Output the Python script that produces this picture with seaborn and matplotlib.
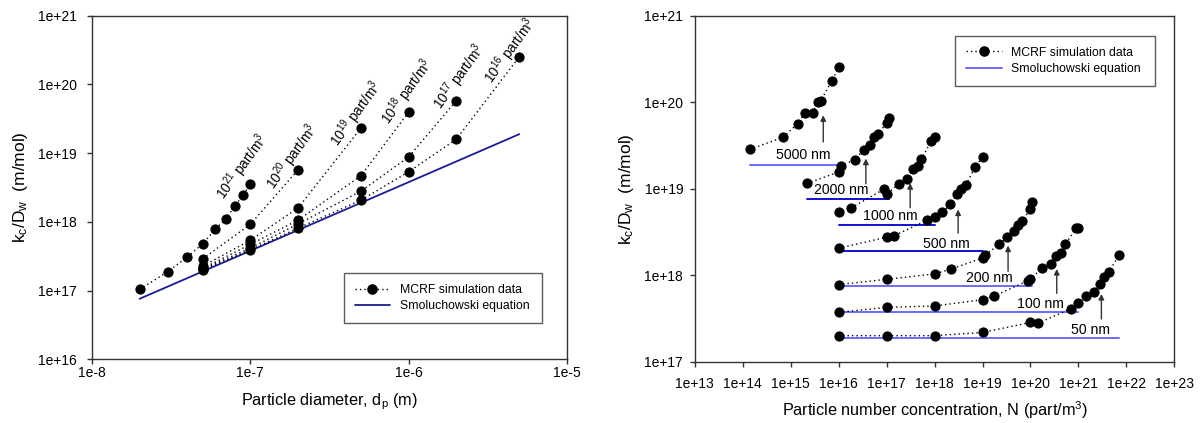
import numpy as np
import pandas as pd
import matplotlib
matplotlib.use("Agg")
import matplotlib.pyplot as plt
from matplotlib.lines import Line2D
import seaborn as sns

# ---------------- Left panel data: k_c/D_w vs particle diameter ----------------
d_1e21 = [2e-8, 3e-8, 4e-8, 5e-8, 6e-8, 7e-8, 8e-8, 9e-8, 1e-7]
k_1e21 = [1.04e17, 1.88e17, 3.08e17, 4.8e17, 7.8e17, 1.11e18, 1.71e18, 2.45e18, 3.59e18]
d_1e20 = [5e-8, 1e-7, 2e-7]
k_1e20 = [2.9e17, 9.2e17, 5.7e18]
d_1e19 = [5e-8, 1e-7, 2e-7, 5e-7]
k_1e19 = [2.27e17, 5.4e17, 1.59e18, 2.32e19]
d_1e18 = [5e-8, 1e-7, 2e-7, 5e-7, 1e-6]
k_1e18 = [2.1e17, 4.7e17, 1.06e18, 4.69e18, 3.96e19]
d_1e17 = [5e-8, 1e-7, 2e-7, 5e-7, 1e-6, 2e-6]
k_1e17 = [2.05e17, 4.15e17, 9.3e17, 2.8e18, 8.8e18, 5.8e19]
d_1e16 = [5e-8, 1e-7, 2e-7, 5e-7, 1e-6, 2e-6, 5e-6]
k_1e16 = [2.0e17, 3.9e17, 8.1e17, 2.07e18, 5.36e18, 1.59e19, 2.53e20]
smol_d = [2e-8, 5e-6]
smol_k = [7.6e16, 1.89e19]
conc_exps = ["21", "20", "19", "18", "17", "16"]

# ---------------- Right panel data: k_c/D_w vs number concentration ----------------
N_5000 = [1.4e14, 7.0e14, 1.4e15, 2.0e15, 2.87e15, 3.66e15, 4.2e15, 7.13e15, 1.0e16]
k_5000 = [2.85e19, 3.93e19, 5.66e19, 7.52e19, 7.52e19, 9.93e19, 1.035e20, 1.74e20, 2.52e20]
N_2000 = [2.19e15, 1.0e16, 1.1e16, 2.19e16, 3.31e16, 4.47e16, 5.5e16, 6.76e16, 1.0e17, 1.1e17]
k_2000 = [1.15e19, 1.56e19, 1.83e19, 2.17e19, 2.80e19, 3.24e19, 3.93e19, 4.34e19, 5.75e19, 6.65e19]
N_1000 = [1e16, 1.78e16, 8.7e16, 1e17, 1.78e17, 2.69e17, 3.47e17, 4.47e17, 5.25e17, 8.5e17, 1e18]
k_1000 = [5.36e18, 5.96e18, 9.82e18, 8.59e18, 1.14e19, 1.28e19, 1.67e19, 1.83e19, 2.19e19, 3.53e19, 3.96e19]
N_500 = [1e16, 1e17, 1.41e17, 6.9e17, 1e18, 1.45e18, 2.14e18, 2.88e18, 3.55e18, 4.47e18, 7.08e18, 1e19]
k_500 = [2.05e18, 2.75e18, 2.85e18, 4.30e18, 4.69e18, 5.36e18, 6.58e18, 8.59e18, 9.82e18, 1.09e19, 1.80e19, 2.31e19]
N_200 = [1e16, 1e17, 1e18, 2.24e18, 1e19, 1.12e19, 2.24e19, 3.24e19, 4.47e19, 5.5e19, 6.6e19, 1e20, 1.1e20]
k_200 = [7.78e17, 8.97e17, 1.035e18, 1.18e18, 1.58e18, 1.69e18, 2.28e18, 2.73e18, 3.26e18, 3.85e18, 4.26e18, 5.75e18, 7.0e18]
N_100 = [1e16, 1e17, 1e18, 1e19, 1.74e19, 9e19, 1e20, 1.78e20, 2.63e20, 3.39e20, 4.37e20, 5.37e20, 8.9e20, 1e21]
k_100 = [3.72e17, 4.25e17, 4.41e17, 5.21e17, 5.75e17, 8.65e17, 9.06e17, 1.22e18, 1.33e18, 1.66e18, 1.81e18, 2.28e18, 3.5e18, 3.5e18]
N_50 = [1e16, 1e17, 1e18, 1e19, 1e20, 1.41e20, 6.9e20, 1e21, 1.41e21, 2.09e21, 2.82e21, 3.47e21, 4.27e21, 7.08e21]
k_50 = [2.0e17, 2.0e17, 2.0e17, 2.18e17, 2.84e17, 2.77e17, 4.1e17, 4.72e17, 5.7e17, 6.4e17, 8.0e17, 9.46e17, 1.08e18, 1.73e18]
size_labels = ["5000 nm", "2000 nm", "1000 nm", "500 nm", "200 nm", "100 nm", "50 nm"]
smol_N_start = [1.4e14, 2.19e15, 1e16, 1e16, 1e16, 1e16, 1e16]
smol_N_end = [1e16, 1.1e17, 1e18, 1e19, 1.1e20, 1e21, 7.08e21]
smol_k_size = [1.89e19, 7.57e18, 3.79e18, 1.89e18, 7.57e17, 3.79e17, 1.89e17]

# ---------------- style ----------------
sns.set_theme(style="ticks")
plt.rcParams["font.family"] = ["Liberation Sans", "DejaVu Sans"]
plt.rcParams["mathtext.fontset"] = "custom"
plt.rcParams["mathtext.rm"] = "Liberation Sans"
plt.rcParams["mathtext.it"] = "Liberation Sans"
plt.rcParams["mathtext.default"] = "regular"
plt.rcParams["text.color"] = "black"
plt.rcParams["axes.labelcolor"] = "black"
plt.rcParams["xtick.labelcolor"] = "black"
plt.rcParams["ytick.labelcolor"] = "black"

fig = plt.figure(figsize=(12.03, 4.23), dpi=100)
axL = fig.add_axes([0.0765, 0.1506, 0.3948, 0.8123])
axR = fig.add_axes([0.5775, 0.1449, 0.3987, 0.8180])

DARK_NAVY = "#1c1c8f"
LIGHT_BLUE = "#6a6aff"
DARK_BLUE = "#1010d0"
MS = 6.6
TICK_FS = 10

def draw_series(ax, x, y):
    df = pd.DataFrame({"x": x, "y": y})
    sns.lineplot(data=df, x="x", y="y", ax=ax, sort=False, estimator=None,
                 color="black", linestyle=(0, (1, 2.2)), linewidth=1.0,
                 marker="o", markersize=MS, markeredgecolor="black",
                 markerfacecolor="black", legend=False, zorder=3)

def style_axes(ax, xpad, ypad):
    ax.set_xscale("log")
    ax.set_yscale("log")
    for s in ax.spines.values():
        s.set_color("#333333")
        s.set_linewidth(1.0)
        s.set_visible(True)
    ax.tick_params(axis="both", which="major", direction="out", length=3.8,
                   width=1.0, color="#333333", labelsize=TICK_FS,
                   labelcolor="black")
    ax.tick_params(axis="x", pad=xpad)
    ax.tick_params(axis="y", pad=ypad)
    ax.minorticks_off()

# ---------------- Left panel ----------------
style_axes(axL, 1.2, 7)
for x, y in [(d_1e21, k_1e21), (d_1e20, k_1e20), (d_1e19, k_1e19),
             (d_1e18, k_1e18), (d_1e17, k_1e17), (d_1e16, k_1e16)]:
    draw_series(axL, x, y)
sns.lineplot(x=smol_d, y=smol_k, ax=axL, color=DARK_NAVY, linewidth=1.3,
             legend=False, zorder=2)
axL.set_xlim(1e-8, 1e-5)
axL.set_ylim(1e16, 1e21)
axL.set_xticks([1e-8, 1e-7, 1e-6, 1e-5])
axL.set_xticklabels(["1e-8", "1e-7", "1e-6", "1e-5"])
axL.set_yticks([1e16, 1e17, 1e18, 1e19, 1e20, 1e21])
axL.set_yticklabels(["1e+16", "1e+17", "1e+18", "1e+19", "1e+20", "1e+21"])
axL.minorticks_off()
axL.set_xlabel("Particle diameter, d$_p$ (m)", fontsize=11.7, labelpad=8)
axL.set_ylabel("k$_c$/D$_w$  (m/mol)", fontsize=12.5, labelpad=6)

label_pos = [(8.87e-8, 6.2e18), (1.84e-7, 8.7e18), (4.68e-7, 3.7e19),
             (9.9e-7, 7.7e19), (2.1e-6, 1.27e20), (4.38e-6, 3.1e20)]
for e, (lx, ly) in zip(conc_exps, label_pos):
    axL.text(lx, ly, "10$^{" + e + "}$ part/m$^{3}$", rotation=54,
             rotation_mode="anchor", ha="center", va="center", fontsize=9.8)

handles = [Line2D([0], [0], color="black", linestyle=(0, (1, 2.2)), linewidth=1.0,
                  marker="o", markersize=MS, markerfacecolor="black"),
           Line2D([0], [0], color=DARK_NAVY, linewidth=1.3)]
legL = axL.legend(handles, ["MCRF simulation data", "Smoluchowski equation"],
                  loc="lower left", bbox_to_anchor=(0.53, 0.105, 0.418, 0.15),
                  mode="expand", fontsize=8.8, frameon=True, fancybox=False,
                  edgecolor="#333333", handlelength=2.9, numpoints=1,
                  borderpad=0.9, labelspacing=0.35, handletextpad=0.8,
                  borderaxespad=0)
legL.get_frame().set_linewidth(1.0)

# ---------------- Right panel ----------------
style_axes(axR, 7, 4.5)
for x, y in [(N_5000, k_5000), (N_2000, k_2000), (N_1000, k_1000), (N_500, k_500),
             (N_200, k_200), (N_100, k_100), (N_50, k_50)]:
    draw_series(axR, x, y)
smol_colors = [LIGHT_BLUE, DARK_BLUE, DARK_BLUE, DARK_BLUE, LIGHT_BLUE, LIGHT_BLUE, LIGHT_BLUE]
for xs, xe, kv, c in zip(smol_N_start, smol_N_end, smol_k_size, smol_colors):
    sns.lineplot(x=[xs, xe], y=[kv, kv], ax=axR, color=c, linewidth=1.4,
                 legend=False, zorder=2)

text_pos = [(1.83e15, 2.48e19), (1.12e16, 9.73e18), (1.17e17, 4.87e18),
            (1.8e18, 2.3e18), (1.37e19, 9.3e17), (1.58e20, 4.65e17), (1.8e21, 2.32e17)]
arrow_x = [4.78e15, 3.7e16, 3.1e17, 3.1e18, 3.41e19, 3.53e20, 3.01e21]
arrow_y0 = [3.47e19, 1.14e19, 6.03e18, 3.06e18, 1.11e18, 6.17e17, 3.12e17]
arrow_y1 = [7.07e19, 2.23e19, 1.16e19, 5.75e18, 2.2e18, 1.18e18, 6.07e17]
for lab, (tx, ty), ax_, y0, y1 in zip(size_labels, text_pos, arrow_x, arrow_y0, arrow_y1):
    axR.text(tx, ty, lab, ha="center", va="center", fontsize=10.2, zorder=4)
    axR.annotate("", xy=(ax_, y1), xytext=(ax_, y0),
                 arrowprops=dict(arrowstyle="-|>", color="#333333", lw=1.0,
                                 mutation_scale=8, shrinkA=0, shrinkB=0))

axR.set_xlim(1e13, 1e23)
axR.set_ylim(1e17, 1e21)
axR.set_xticks([10.0 ** p for p in range(13, 24)])
axR.set_xticklabels(["1e+%d" % p for p in range(13, 24)])
axR.set_yticks([1e17, 1e18, 1e19, 1e20, 1e21])
axR.set_yticklabels(["1e+17", "1e+18", "1e+19", "1e+20", "1e+21"])
axR.minorticks_off()
axR.set_xlabel("Particle number concentration, N (part/m$^3$)", fontsize=11.7, labelpad=6)
axR.set_ylabel("k$_c$/D$_w$  (m/mol)", fontsize=12.5, labelpad=6)

handlesR = [Line2D([0], [0], color="black", linestyle=(0, (1, 2.2)), linewidth=1.0,
                   marker="o", markersize=MS, markerfacecolor="black"),
            Line2D([0], [0], color=LIGHT_BLUE, linewidth=1.4)]
legR = axR.legend(handlesR, ["MCRF simulation data", "Smoluchowski equation"],
                  loc="upper left", bbox_to_anchor=(0.543, 0.793, 0.417, 0.149),
                  mode="expand", fontsize=8.8, frameon=True, fancybox=False,
                  edgecolor="#333333", handlelength=2.9, numpoints=1,
                  borderpad=0.9, labelspacing=0.35, handletextpad=0.8,
                  borderaxespad=0)
legR.get_frame().set_linewidth(1.0)

fig.savefig("out.png", dpi=100, facecolor="white")
